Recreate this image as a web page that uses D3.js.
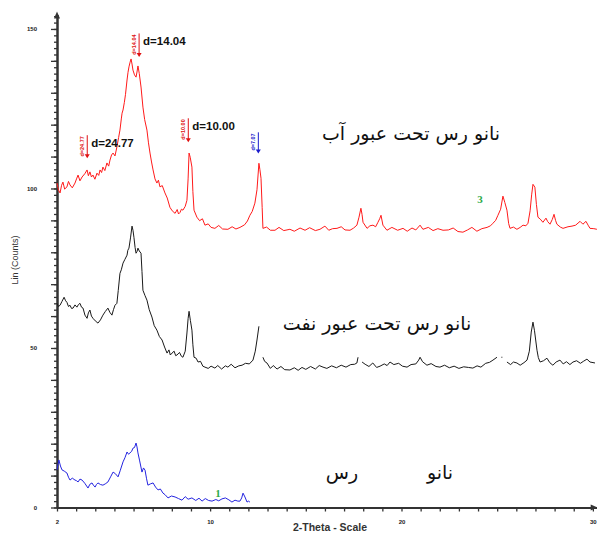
<!DOCTYPE html>
<html>
<head>
	<meta charset="UTF-8">
	<title>XRD nano clay</title>
	<script src="https://d3js.org/d3.v7.min.js"></script>
	<style type="text/css">
		body { margin: 0; background: #fff; }
		svg { display: block; }
		.tick text {
			font-family: "Liberation Sans", Arial, sans-serif;
			font-weight: bold;
			font-size: 6px;
			fill: #222;
		}
		.trace { fill: none; stroke-width: 1; stroke-linejoin: round; }
		.fa { font-family: "DejaVu Sans", serif; font-size: 19px; fill: #111; }
	</style>
</head>
<body>
<svg id="chart" width="597" height="536"></svg>
<script type="text/javascript">

	// [2-theta, counts]
	var redSeries = [
		[2.00,101.7],[2.08,99.5],[2.16,98.6],[2.24,101.0],[2.31,102.0],[2.40,99.8],[2.52,100.5],[2.60,102.2],[2.68,101.1],
		[2.80,100.2],[2.94,101.7],[3.02,103.0],[3.10,104.2],[3.20,102.4],[3.31,103.6],[3.45,104.6],[3.57,105.8],[3.64,104.0],
		[3.72,105.2],[3.80,103.6],[3.88,104.2],[3.98,102.9],[4.09,104.8],[4.18,104.1],[4.25,105.8],[4.33,105.0],[4.40,106.7],
		[4.50,105.6],[4.61,108.0],[4.70,107.0],[4.77,108.9],[4.85,110.5],[4.93,111.1],[5.03,110.2],[5.13,113.0],[5.22,116.0],
		[5.29,118.3],[5.36,121.8],[5.40,123.6],[5.45,124.6],[5.52,127.0],[5.58,129.5],[5.66,134.0],[5.71,136.4],[5.76,138.1],
		[5.82,139.6],[5.87,140.6],[5.92,139.0],[5.97,137.1],[6.05,135.6],[6.13,134.9],[6.18,136.5],[6.23,138.4],[6.30,136.0],
		[6.39,131.8],[6.49,125.5],[6.58,121.6],[6.70,118.3],[6.78,114.3],[6.86,111.1],[6.94,108.3],[7.02,105.8],[7.12,103.0],
		[7.22,101.7],[7.30,102.6],[7.38,100.5],[7.50,100.9],[7.64,98.6],[7.76,97.0],[7.90,94.1],[8.02,93.0],[8.17,92.2],
		[8.28,93.4],[8.35,92.0],[8.43,92.5],[8.50,93.5],[8.58,93.2],[8.70,94.4],[8.79,96.3],[8.85,103.0],[8.90,111.1],
		[8.96,109.8],[9.05,106.7],[9.10,99.0],[9.16,93.2],[9.31,91.0],[9.45,89.9],[9.60,90.5],[9.73,88.5],[9.90,88.9],
		[10.05,87.8],[10.25,87.5],[10.45,88.4],[10.65,87.3],[10.93,87.2],[11.15,88.0],[11.35,87.3],[11.56,87.8],[11.80,88.6],
		[11.95,89.8],[12.08,91.6],[12.20,92.8],[12.34,95.4],[12.45,99.6],[12.55,107.9],[12.60,106.0],[12.66,103.2],[12.72,94.0],
		[12.76,87.5],[12.95,87.9],[13.15,86.9],[13.39,86.9],[13.60,87.8],[13.85,86.8],[14.17,87.2],[14.40,86.6],[14.70,87.6],
		[14.96,86.9],[15.20,87.7],[15.50,86.8],[15.74,87.2],[16.00,88.2],[16.20,86.9],[16.40,87.4],[16.63,87.5],[16.85,88.0],
		[17.05,87.0],[17.31,86.9],[17.50,87.6],[17.67,88.5],[17.78,91.0],[17.88,93.8],[17.94,91.8],[17.99,89.4],[18.20,87.5],
		[18.35,88.3],[18.51,88.5],[18.65,88.0],[18.77,89.4],[18.86,90.5],[18.93,91.6],[19.03,88.5],[19.24,86.9],[19.50,87.8],
		[19.80,86.9],[20.08,87.5],[20.30,86.6],[20.55,87.6],[20.75,87.0],[20.97,88.5],[21.12,87.2],[21.40,87.8],[21.65,86.8],
		[21.90,87.4],[22.17,86.9],[22.45,87.0],[22.70,87.6],[22.95,86.5],[23.21,86.3],[23.45,87.0],[23.68,87.8],[23.94,86.6],
		[24.20,87.4],[24.47,87.8],[24.65,88.3],[24.78,89.1],[24.92,90.0],[25.04,91.6],[25.18,93.5],[25.30,97.6],[25.40,95.6],
		[25.51,93.2],[25.60,89.0],[25.67,87.5],[25.85,87.9],[26.03,87.2],[26.20,87.8],[26.35,88.5],[26.50,88.3],[26.61,89.1],
		[26.72,93.0],[26.80,98.0],[26.87,101.3],[26.97,100.4],[27.05,95.0],[27.13,91.0],[27.25,90.4],[27.39,89.4],[27.55,90.7],
		[27.64,89.6],[27.76,88.8],[27.88,90.3],[27.97,91.9],[28.05,90.0],[28.12,88.8],[28.30,87.9],[28.44,87.5],[28.70,88.0],
		[28.91,88.2],[29.10,88.5],[29.33,89.7],[29.48,88.8],[29.64,89.7],[29.75,88.5],[29.85,87.5],[30.05,87.4],[30.21,87.2]
	];

	// null breaks the trace where the scan has gaps
	var blackSeries = [
		[2.00,64.0],[2.08,63.0],[2.16,63.4],[2.26,64.6],[2.37,65.9],[2.45,64.8],[2.52,64.3],[2.60,63.0],[2.68,63.4],[2.76,62.4],
		[2.84,62.5],[2.94,63.5],[3.04,62.8],[3.12,63.6],[3.20,64.0],[3.28,62.8],[3.36,62.5],[3.46,60.3],[3.57,59.3],[3.64,61.0],
		[3.72,61.9],[3.80,60.0],[3.88,59.3],[4.00,58.5],[4.14,57.8],[4.27,58.8],[4.40,60.3],[4.52,61.4],[4.66,62.5],[4.76,61.2],
		[4.87,60.3],[4.95,62.0],[5.03,63.4],[5.13,64.0],[5.20,68.0],[5.29,73.4],[5.36,74.5],[5.45,76.6],[5.55,77.8],[5.66,79.1],
		[5.70,80.6],[5.76,81.3],[5.84,84.5],[5.92,88.2],[5.97,86.9],[6.02,84.7],[6.08,81.5],[6.13,79.7],[6.18,80.2],[6.23,81.3],
		[6.30,80.4],[6.39,79.7],[6.44,74.0],[6.49,68.1],[6.60,66.4],[6.70,65.0],[6.82,62.0],[6.96,59.7],[7.08,57.0],[7.22,55.6],
		[7.35,53.6],[7.49,52.5],[7.62,50.3],[7.75,48.4],[7.85,49.4],[7.92,47.8],[8.01,48.4],[8.12,49.0],[8.20,47.6],[8.27,47.8],
		[8.40,48.6],[8.50,47.4],[8.58,47.1],[8.70,49.0],[8.79,54.7],[8.85,59.2],[8.90,61.5],[8.97,58.6],[9.05,55.6],[9.10,51.0],
		[9.16,47.1],[9.27,46.8],[9.37,45.6],[9.50,45.8],[9.62,44.3],[9.73,44.0],[9.90,43.6],[10.05,44.3],[10.25,43.7],[10.40,44.5],
		[10.60,43.4],[10.80,44.4],[10.93,44.0],[11.10,44.9],[11.30,43.8],[11.50,44.4],[11.67,44.6],[11.85,45.2],[12.05,45.0],
		[12.24,46.2],[12.36,49.0],[12.45,52.5],[12.55,56.8],[12.55,null],
		[12.76,47.1],[12.85,45.8],[12.97,45.3],[13.15,43.6],[13.30,44.5],[13.50,43.4],[13.70,44.2],[13.90,43.2],[14.17,43.1],
		[14.40,43.8],[14.60,43.0],[14.80,43.9],[15.00,43.3],[15.25,44.2],[15.50,43.4],[15.70,44.5],[15.90,44.0],[16.10,43.6],
		[16.35,44.4],[16.60,43.8],[16.85,44.6],[17.10,44.0],[17.35,44.8],[17.55,44.9],[17.67,45.3],[17.73,47.1],[17.73,null],
		[17.94,45.6],[18.10,44.9],[18.30,44.2],[18.50,45.3],[18.70,43.9],[18.88,44.3],[19.10,45.0],[19.25,44.5],[19.40,45.6],
		[19.60,44.8],[19.85,45.2],[20.05,44.3],[20.29,44.0],[20.50,44.8],[20.75,45.0],[20.90,46.2],[20.97,47.1],[21.10,45.7],
		[21.33,44.6],[21.55,45.1],[21.80,44.2],[22.01,44.0],[22.25,44.6],[22.50,43.8],[22.75,44.3],[23.00,43.6],[23.25,44.1],
		[23.50,43.9],[23.73,43.7],[23.95,44.4],[24.15,44.0],[24.40,45.2],[24.60,45.5],[24.78,46.2],[24.99,47.1],[24.99,null],
		[25.22,47.1],[25.27,47.1],[25.27,null],
		[25.51,45.6],[25.70,44.8],[25.85,45.6],[26.03,45.3],[26.20,44.6],[26.40,45.4],[26.56,46.2],[26.68,49.0],[26.78,55.0],
		[26.87,58.1],[26.95,55.4],[27.08,49.3],[27.15,47.0],[27.24,45.6],[27.42,46.0],[27.60,46.8],[27.75,45.4],[27.91,44.6],
		[28.08,45.6],[28.28,46.2],[28.45,45.0],[28.62,45.7],[28.80,44.8],[28.96,45.6],[29.15,46.0],[29.35,45.2],[29.50,45.8],
		[29.69,46.5],[29.85,45.6],[30.11,45.3]
	];

	var blueSeries = [
		[2.00,11.8],[2.05,13.5],[2.10,14.9],[2.18,13.0],[2.26,11.8],[2.38,11.4],[2.52,10.8],[2.60,9.5],[2.68,8.6],[2.80,9.2],
		[2.94,8.6],[3.02,8.4],[3.10,8.0],[3.20,8.9],[3.31,8.6],[3.45,7.6],[3.62,6.1],[3.72,7.3],[3.83,7.7],[3.90,7.0],[3.99,6.4],
		[4.06,7.2],[4.14,7.7],[4.27,7.2],[4.40,7.0],[4.52,7.4],[4.66,8.0],[4.80,9.6],[4.93,11.1],[5.05,10.6],[5.19,9.6],
		[5.30,11.5],[5.45,14.3],[5.55,15.6],[5.66,17.4],[5.74,16.7],[5.81,17.1],[5.90,17.6],[5.97,18.6],[6.05,18.8],[6.13,20.2],
		[6.18,19.0],[6.23,17.1],[6.32,14.6],[6.44,11.1],[6.52,12.4],[6.60,11.7],[6.68,9.0],[6.75,7.0],[6.88,7.4],[7.02,7.7],
		[7.15,6.4],[7.28,5.5],[7.40,5.8],[7.54,4.5],[7.65,4.0],[7.80,3.0],[7.98,3.6],[8.17,3.3],[8.35,2.8],[8.53,2.3],[8.70,3.4],
		[8.85,2.6],[9.05,3.0],[9.25,2.2],[9.42,2.9],[9.58,2.0],[9.75,2.8],[9.92,2.2],[10.10,2.0],[10.30,2.5],[10.45,2.1],[10.62,2.7],
		[10.80,3.0],[10.98,2.4],[11.14,1.7],[11.30,2.3],[11.45,2.0],[11.56,2.0],[11.65,3.0],[11.72,4.5],[11.82,3.3],[11.93,1.7],
		[12.00,2.0],[12.08,1.7]
	];

	// peak markers: position, d-spacing, arrow top and tip (counts)
	var peakTheta = [3.58, 6.29, 8.86, 12.52];
	var peakD     = ["24.77", "14.04", "10.00", "7.07"];
	var peakTop   = [116.7, 148.6, 122.0, 117.6];
	var peakTip   = [109.5, 141.2, 114.5, 111.0];
	var peakBig   = [true, true, true, false];

	var xTickLabels = [2, 10, 20, 30];
	var yTickLabels = [0, 50, 100, 150];

	var svg = d3.select("#chart");

	//=======SCALE======================================================================
	var x = d3.scaleLinear().domain([2, 30.2]).range([57, 596.7]);
	var y = d3.scaleLinear().domain([0, 154.5]).range([507.5, 14.6]);

	//======AXIS========================================================================
	var xAxis = d3.axisBottom(x)
		.tickValues(d3.range(2, 31, 1))
		.tickSize(4)
		.tickSizeOuter(0)
		.tickPadding(8)
		.tickFormat(function(d) { return xTickLabels.indexOf(d) >= 0 ? d : ""; });

	var yMinor = d3.axisLeft(y)
		.tickValues(d3.range(0, 155, 2))
		.tickSize(3)
		.tickSizeOuter(0)
		.tickFormat("");

	var yMajor = d3.axisLeft(y)
		.tickValues(d3.range(0, 151, 10))
		.tickSize(6)
		.tickSizeOuter(0)
		.tickPadding(14)
		.tickFormat(function(d) { return yTickLabels.indexOf(d) >= 0 ? d : ""; });

	svg.append("g")
		.attr("transform", "translate(0," + y(0) + ")")
		.style("color", "#333")
		.call(xAxis);

	svg.append("g")
		.attr("transform", "translate(" + x(2) + ",0)")
		.style("color", "#333")
		.call(yMinor);

	svg.append("g")
		.attr("transform", "translate(" + x(2) + ",0)")
		.style("color", "#333")
		.call(yMajor);

	svg.selectAll(".domain").attr("stroke-width", 2);
	svg.selectAll(".tick line").attr("stroke-width", 1.3);

	// arrow heads on axis ends
	var x0 = x(2), y0 = y(0), xe = x.range()[1], ye = y.range()[1];
	svg.append("path")
		.attr("d", "M" + x0 + "," + (ye - 3) + "l-3,7h6z")
		.attr("fill", "#333");
	svg.append("path")
		.attr("d", "M" + (xe + 1) + "," + y0 + "l-7,-3v6z")
		.attr("fill", "#333");

	svg.append("text")
		.attr("x", 330).attr("y", 531)
		.attr("text-anchor", "middle")
		.style("font-family", "'Liberation Sans', Arial, sans-serif")
		.style("font-weight", "bold")
		.style("font-size", "10.5px")
		.style("fill", "#333")
		.text("2-Theta - Scale");

	svg.append("text")
		.attr("transform", "translate(18,260) rotate(-90)")
		.attr("text-anchor", "middle")
		.style("font-family", "'Liberation Sans', Arial, sans-serif")
		.style("font-size", "9px")
		.style("fill", "#333")
		.text("Lin (Counts)");

	//==Draw the traces==================================================================
	var valueline = d3.line()
		.defined(function(d) { return d[1] !== null; })
		.x(function(d) { return x(d[0]); })
		.y(function(d) { return y(d[1]); });

	svg.append("path").attr("class", "trace").attr("stroke", "#ff1a1a").attr("d", valueline(redSeries));
	svg.append("path").attr("class", "trace").attr("stroke", "#1a1a1a").attr("d", valueline(blackSeries));
	svg.append("path").attr("class", "trace").attr("stroke", "#2424e0").attr("d", valueline(blueSeries));

	//==Peak markers=====================================================================
	peakTheta.forEach(function(t, i) {
		var col = peakBig[i] ? "#e01010" : "#1a1acc";
		var px = x(t), top = y(peakTop[i]), tip = y(peakTip[i]);
		svg.append("line")
			.attr("x1", px).attr("x2", px)
			.attr("y1", top).attr("y2", tip - 3)
			.attr("stroke", col).attr("stroke-width", 1);
		svg.append("path")
			.attr("d", "M" + (px - 2.5) + "," + (tip - 4) + "h5l-2.5,4z")
			.attr("fill", col);
		svg.append("text")
			.attr("transform", "translate(" + (px - 3) + "," + (top + 1) + ") rotate(-90)")
			.attr("text-anchor", "end")
			.style("font-family", "'Liberation Sans', Arial, sans-serif")
			.style("font-weight", "bold")
			.style("font-size", "5.5px")
			.style("fill", col)
			.text("d=" + peakD[i]);
		if (peakBig[i]) {
			svg.append("text")
				.attr("x", px + 4)
				.attr("y", top + 12)
				.style("font-family", "'Liberation Sans', Arial, sans-serif")
				.style("font-weight", "bold")
				.style("font-size", "11.5px")
				.style("fill", "#111")
				.text("d=" + peakD[i]);
		}
	});

	//==Scan numbers and sample names====================================================
	svg.append("text")
		.attr("x", x(24.1)).attr("y", y(95.5))
		.attr("text-anchor", "middle")
		.style("font-family", "'Liberation Serif', serif")
		.style("font-weight", "bold")
		.style("font-size", "11px")
		.style("fill", "#2eaa4a")
		.text("3");

	svg.append("text")
		.attr("x", x(10.41)).attr("y", y(3.2))
		.attr("text-anchor", "middle")
		.style("font-family", "'Liberation Serif', serif")
		.style("font-weight", "bold")
		.style("font-size", "11px")
		.style("fill", "#2eaa4a")
		.text("1");

	svg.append("text").attr("class", "fa")
		.attr("x", 411).attr("y", 140)
		.attr("text-anchor", "middle")
		.attr("direction", "rtl")
		.text("نانو رس تحت عبور آب");

	svg.append("text").attr("class", "fa")
		.attr("x", 377).attr("y", 330)
		.attr("text-anchor", "middle")
		.attr("direction", "rtl")
		.text("نانو رس تحت عبور نفت");

	svg.append("text").attr("class", "fa")
		.attr("x", 440).attr("y", 479)
		.attr("text-anchor", "middle")
		.text("نانو");

	svg.append("text").attr("class", "fa")
		.attr("x", 342).attr("y", 479)
		.attr("text-anchor", "middle")
		.text("رس");

</script>
</body>
</html>
